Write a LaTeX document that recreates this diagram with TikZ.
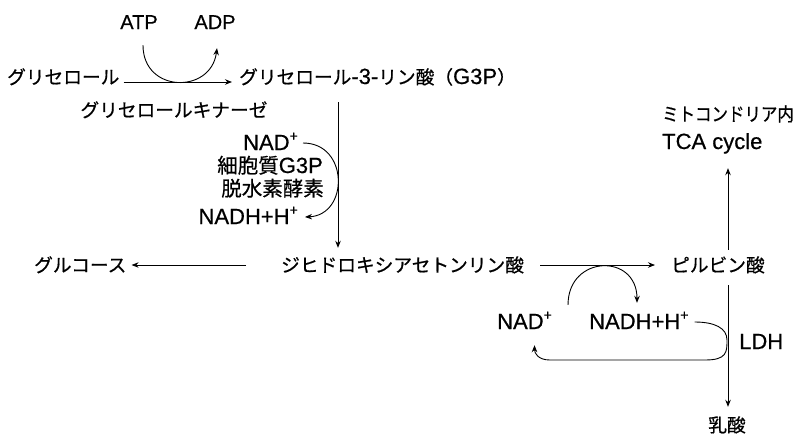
\documentclass[tikz,border=0pt]{standalone}
\usepackage{graphicx}
\usepackage{fontspec}
\setmainfont{Noto Sans CJK JP}[FakeBold=0.6]
\newfontfamily\latinfont{Liberation Sans}[FakeBold=0.5]
\usetikzlibrary{arrows.meta}
\newcommand\jpf{\fontsize{18.7pt}{22pt}\selectfont}
\newcommand\jpbig{\fontsize{20.5pt}{24pt}\selectfont}
\newcommand\lat{\latinfont\fontsize{22pt}{24pt}\selectfont}
\newcommand\latsm{\latinfont\fontsize{20pt}{24pt}\selectfont}
\newcommand\supplus{\raisebox{0.42em}{\fontsize{14pt}{14pt}\selectfont +}}
\begin{document}
\begin{tikzpicture}[x=1pt,y=-1pt,
  txt/.style={inner sep=0pt, text height=16pt, text depth=2pt},
  jt/.style={txt, font=\jpf},
  jb/.style={txt, font=\jpbig},
  lt/.style={txt, font=\lat},
  ls/.style={txt, font=\latsm},
  arr/.style={draw, line width=0.9pt, -{Stealth[length=7pt,width=5.5pt]}}]
\fill[white] (0,0) rectangle (798,437);
\useasboundingbox (0,0) rectangle (798,437);

% nodes
\node[ls] (atp) at (139,22) {ATP};
\node[ls] (adp) at (215,22) {ADP};
\node[jt,anchor=west] (gly) at (7,77) {グリセロール};
\node[jt,anchor=west] (g3p) at (239,77) {グリセロール{\lat -3-}リン酸（{\lat G3P}）};
\node[jt] (gk) at (174,110) {グリセロールキナーゼ};
\node[lt,anchor=east] (nad1) at (298,143) {NAD\supplus};
\node[jb,anchor=east] (enz1) at (323,166) {細胞質{\lat G3P}};
\node[jb,anchor=east] (enz2) at (324,189) {脱水素酵素};
\node[lt,anchor=east] (nadh1) at (298,217) {NADH+H\supplus};
\node[jt,anchor=west] (glc) at (34,265) {グルコース};
\node[jt,anchor=west] (dhap) at (281,265) {ジヒドロキシアセトンリン酸};
\node[jt,anchor=west] (pyr) at (671,265) {ピルビン酸};
\node[jt,anchor=west] (mito) at (662,114) {\scalebox{0.88}[1]{ミトコンドリア内}};
\node[lt,anchor=west] (tca) at (662,142) {TCA cycle};
\node[lt,anchor=west] (nad2) at (497,322) {NAD\supplus};
\node[lt,anchor=west] (nadh2) at (589,322) {NADH+H\supplus};
\node[lt,anchor=west] (ldh) at (739,342) {LDH};
\node[jt] (lac) at (727,425) {乳酸};

% helper coordinates
\coordinate (vA) at (338,0);
\coordinate (vB) at (728,0);
\coordinate (lr) at (727,340);
\coordinate (lb) at (705,360);
\coordinate (ll) at (550,360);

% connectors
\draw[arr, shorten <=4pt, shorten >=7pt] ([yshift=-5pt]gly.east) -- ([yshift=-5pt]g3p.west);
\draw[arr] ([xshift=4pt,yshift=-14pt]atp.south) .. controls +(0,48) and +(-6,46) .. ([xshift=2pt,yshift=-17pt]adp.south);
\draw[arr, shorten <=16pt, shorten >=8pt] (g3p.south -| vA) -- (dhap.north -| vA);
\draw[arr] ([xshift=5pt]nad1.east) .. controls +(46,0) and +(44,-2) .. ([xshift=7pt]nadh1.east);
\draw[arr, shorten <=35pt, shorten >=5pt] (dhap.west) -- (glc.east);
\draw[arr, shorten <=16pt, shorten >=16pt] (dhap.east) -- (pyr.west);
\draw[arr, shorten <=6pt, shorten >=17pt] (pyr.north -| vB) -- (tca.south -| vB);
\draw[arr, shorten <=11pt, shorten >=9pt] (pyr.south -| vB) -- (lac.north -| vB);
\draw[arr] ([xshift=16pt,yshift=8pt]nad2.north east) .. controls +(0,-50) and +(0,-50) .. ([xshift=48pt,yshift=10pt]nadh2.north west);
\draw[arr] ([xshift=6pt]nadh2.east) .. controls +(20,0) and +(0,-12) .. (lr) .. controls +(0,12) and +(22,0) .. (lb) -- (ll) .. controls +(-12,0) and +(0,8) .. ([xshift=10pt,yshift=-14pt]nad2.south);
\end{tikzpicture}
\end{document}
